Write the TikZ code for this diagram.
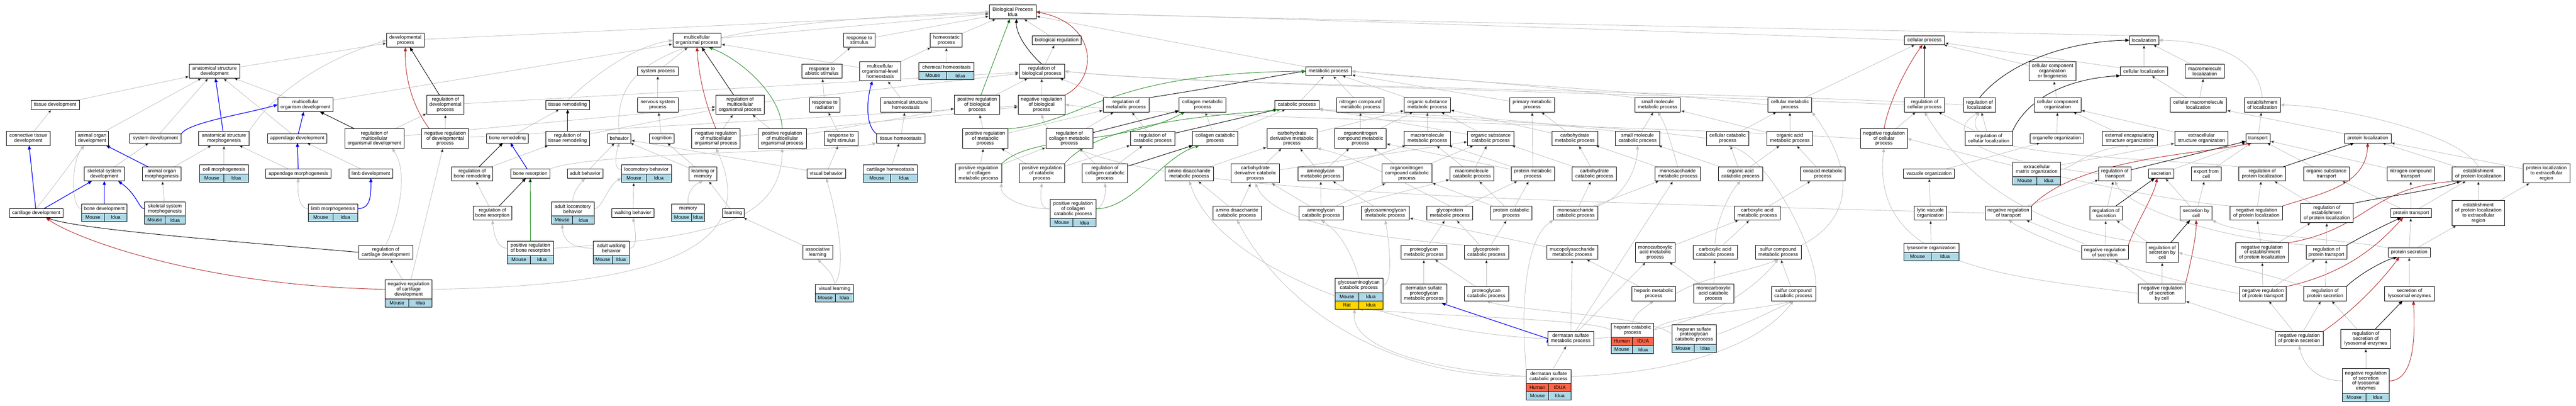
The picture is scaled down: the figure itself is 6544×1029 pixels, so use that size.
\documentclass[tikz,border=0pt]{standalone}
\usepackage{fontspec}
\setmainfont{Liberation Sans}
\usetikzlibrary{arrows.meta}
\usetikzlibrary{backgrounds}
\definecolor{mouserow}{HTML}{ADD8E6}
\definecolor{humanrow}{HTML}{FF6347}
\definecolor{ratrow}{HTML}{FFD700}
\definecolor{isagray}{HTML}{C0C0C0}
\definecolor{negred}{HTML}{B22222}
\definecolor{posgreen}{HTML}{228B22}

\begin{document}
\begin{tikzpicture}
  [x=1pt, y=-1pt,
   term/.style={draw=black, line width=1.1pt, fill=white, align=center, inner sep=2pt, outer sep=0pt,
     minimum height=23pt, font=\fontsize{12.5}{12.8}\selectfont},
   two/.style={term, minimum height=36pt},
   three/.style={term, minimum height=49pt},
   four/.style={term, minimum height=63pt},
   row/.style={draw=black, line width=1.1pt, fill=#1, inner sep=1pt, outer sep=0pt,
     minimum height=21pt, font=\fontsize{12.5}{12.8}\selectfont},
   isa/.style={draw=isagray, line width=1.1pt, -{Triangle[length=10pt,width=8pt]}},
   partof/.style={draw=blue, line width=1.6pt, -{Triangle[length=10pt,width=8pt]}},
   regs/.style={draw=black, line width=1.2pt, -{Triangle[length=10pt,width=8pt]}},
   negregs/.style={draw=negred, line width=1.2pt, -{Triangle[length=10pt,width=8pt]}},
   posregs/.style={draw=posgreen, line width=1.2pt, -{Triangle[length=10pt,width=8pt]}}]
\useasboundingbox (0,0) rectangle (6544,1029);

% development
\node[term, minimum width=123pt] (tissuedev) at (140,266) {tissue development};
\node[two, minimum width=112pt] (conndev) at (72,351) {connective tissue\\development};
\node[two, minimum width=84pt] (aorgdev) at (234,351) {animal organ\\development};
\node[term, minimum width=131pt] (sysdev) at (395,351) {system development};
\node[two, minimum width=128pt] (asm) at (569,351) {anatomical structure\\morphogenesis};
\node[two, minimum width=103pt] (skeldev) at (265,441) {skeletal system\\development};
\node[two, minimum width=99pt] (aorgmorph) at (411,441) {animal organ\\morphogenesis};
\node[term, minimum width=124pt] (cellmorph) at (569,430) {cell morphogenesis};
\node[row=mouserow, minimum width=62pt, anchor=north west] (cellmorph1) at (cellmorph.south west) {Mouse};
\node[row=mouserow, minimum width=62pt, anchor=north east] (cellmorph2) at (cellmorph.south east) {Idua};
\node[term, minimum width=137pt] (cartdev) at (92,540.5) {cartilage development};
\node[term, minimum width=116pt] (bonedev) at (265,529.5) {bone development};
\node[row=mouserow, minimum width=58pt, anchor=north west] (bonedev1) at (bonedev.south west) {Mouse};
\node[row=mouserow, minimum width=58pt, anchor=north east] (bonedev2) at (bonedev.south east) {Idua};
\node[two, minimum width=103pt] (skelmorph) at (419,530) {skeletal system\\morphogenesis};
\node[row=mouserow, minimum width=51.5pt, anchor=north west] (skelmorph1) at (skelmorph.south west) {Mouse};
\node[row=mouserow, minimum width=51.5pt, anchor=north east] (skelmorph2) at (skelmorph.south east) {Idua};
\node[two, minimum width=128pt] (asd) at (545,180.5) {anatomical structure\\development};
\node[two, minimum width=95pt] (devproc) at (1030,102) {developmental\\process};
\node[two, minimum width=141pt] (mod) at (776,265.5) {multicellular\\organism development};
\node[term, minimum width=151pt] (appdev) at (755,351) {appendage development};
\node[three, minimum width=151pt] (regmodev) at (951,351.5) {regulation of\\multicellular\\organismal development};
\node[term, minimum width=166pt] (appmorph) at (758,440.5) {appendage morphogenesis};
\node[term, minimum width=112pt] (limbdev) at (942,440.5) {limb development};
\node[term, minimum width=126pt] (limbmorph) at (846,529.5) {limb morphogenesis};
\node[row=mouserow, minimum width=63pt, anchor=north west] (limbmorph1) at (limbmorph.south west) {Mouse};
\node[row=mouserow, minimum width=63pt, anchor=north east] (limbmorph2) at (limbmorph.south east) {Idua};
\node[two, minimum width=138pt] (regcartdev) at (980,640) {regulation of\\cartilage development};
\node[three, minimum width=119pt] (nregcartdev) at (1038,734) {negative regulation\\of cartilage\\development};
\node[row=mouserow, minimum width=59.5pt, anchor=north west] (nregcartdev1) at (nregcartdev.south west) {Mouse};
\node[row=mouserow, minimum width=59.5pt, anchor=north east] (nregcartdev2) at (nregcartdev.south east) {Idua};
\node[three, minimum width=95pt] (regdevproc) at (1131.5,265.5) {regulation of\\developmental\\process};
\node[three, minimum width=119pt] (nregdevproc) at (1131,351.5) {negative regulation\\of developmental\\process};

% remodeling and behavior
\node[term, minimum width=112pt] (tissrem) at (1442,266) {tissue remodeling};
\node[term, minimum width=106pt] (bonerem) at (1289,351) {bone remodeling};
\node[two, minimum width=112pt] (regtissrem) at (1442,351) {regulation of\\tissue remodeling};
\node[term, minimum width=59pt] (behavior) at (1573,351) {behavior};
\node[two, minimum width=105pt] (regbonerem) at (1199.5,441) {regulation of\\bone remodeling};
\node[term, minimum width=99pt] (boneres) at (1347,440.5) {bone resorption};
\node[term, minimum width=91pt] (adultbeh) at (1486.5,440.5) {adult behavior};
\node[term, minimum width=127pt] (locobeh) at (1642,430) {locomotory behavior};
\node[row=mouserow, minimum width=63.5pt, anchor=north west] (locobeh1) at (locobeh.south west) {Mouse};
\node[row=mouserow, minimum width=63.5pt, anchor=north east] (locobeh2) at (locobeh.south east) {Idua};
\node[two, minimum width=99pt] (regboneres) at (1251,540.5) {regulation of\\bone resorption};
\node[two, minimum width=108pt] (adultlocobeh) at (1455,530) {adult locomotory\\behavior};
\node[row=mouserow, minimum width=54pt, anchor=north west] (adultlocobeh1) at (adultlocobeh.south west) {Mouse};
\node[row=mouserow, minimum width=54pt, anchor=north east] (adultlocobeh2) at (adultlocobeh.south east) {Idua};
\node[term, minimum width=107pt] (walkbeh) at (1608,540.5) {walking behavior};
\node[two, minimum width=117pt] (posregboneres) at (1347.5,630) {positive regulation\\of bone resorption};
\node[row=mouserow, minimum width=58.5pt, anchor=north west] (posregboneres1) at (posregboneres.south west) {Mouse};
\node[row=mouserow, minimum width=58.5pt, anchor=north east] (posregboneres2) at (posregboneres.south east) {Idua};
\node[two, minimum width=92pt] (adultwalkbeh) at (1553,630) {adult walking\\behavior};
\node[row=mouserow, minimum width=49pt, anchor=north west] (adultwalkbeh1) at (adultwalkbeh.south west) {Mouse};
\node[row=mouserow, minimum width=43pt, anchor=north east] (adultwalkbeh2) at (adultwalkbeh.south east) {Idua};
\node[term, minimum width=103pt] (sysproc) at (1671,180.5) {system process};
\node[two, minimum width=103pt] (nervsysproc) at (1671,266) {nervous system\\process};
\node[term, minimum width=63pt] (cognition) at (1681,351) {cognition};
\node[two, minimum width=122.5pt] (mop) at (1770.5,102) {multicellular\\organismal process};
\node[two, minimum width=79pt] (respstim) at (2183,102) {response to\\stimulus};
\node[two, minimum width=101pt] (respabio) at (2088,180.5) {response to\\abiotic stimulus};
\node[three, minimum width=123pt] (regmop) at (1880,265.5) {regulation of\\multicellular\\organismal process};
\node[two, minimum width=78pt] (resprad) at (2095,266) {response to\\radiation};
\node[three, minimum width=123pt] (nregmop) at (1819,351.5) {negative regulation\\of multicellular\\organismal process};
\node[three, minimum width=123pt] (posregmop) at (1987,351.5) {positive regulation\\of multicellular\\organismal process};
\node[two, minimum width=86pt] (resplight) at (2137,351) {response to\\light stimulus};
\node[two, minimum width=70pt] (learnmem) at (1786,441) {learning or\\memory};
\node[term, minimum width=97.5pt] (visbeh) at (2099,440.5) {visual behavior};
\node[term, minimum width=83pt] (memory) at (1748,529.5) {memory};
\node[row=mouserow, minimum width=50pt, anchor=north west] (memory1) at (memory.south west) {Mouse};
\node[row=mouserow, minimum width=33pt, anchor=north east] (memory2) at (memory.south east) {Idua};
\node[term, minimum width=55pt] (learning) at (1863,540.5) {learning};
\node[two, minimum width=76pt] (assoclearn) at (2077,640) {associative\\learning};
\node[term, minimum width=97pt] (vislearn) at (2120,733.5) {visual learning};
\node[row=mouserow, minimum width=50pt, anchor=north west] (vislearn1) at (vislearn.south west) {Mouse};
\node[row=mouserow, minimum width=47pt, anchor=north east] (vislearn2) at (vislearn.south east) {Idua};

% root, homeostasis, regulation
\node[two, minimum width=119pt] (bp) at (2572.5,30) {Biological Process\\Idua};
\node[two, minimum width=81pt] (homeo) at (2404,102) {homeostatic\\process};
\node[term, minimum width=124pt] (bioreg) at (2684.5,102) {biological regulation};
\node[three, minimum width=104pt] (molh) at (2236,180.5) {multicellular\\organismal-level\\homeostasis};
\node[term, minimum width=140pt] (chemhomeo) at (2404.5,170) {chemical homeostasis};
\node[row=mouserow, minimum width=70pt, anchor=north west] (chemhomeo1) at (chemhomeo.south west) {Mouse};
\node[row=mouserow, minimum width=70pt, anchor=north east] (chemhomeo2) at (chemhomeo.south east) {Idua};
\node[two, minimum width=115pt] (regbp) at (2646.5,180.5) {regulation of\\biological process};
\node[two, minimum width=128.5pt] (ash) at (2301,266) {anatomical structure\\homeostasis};
\node[three, minimum width=115pt] (posregbp) at (2482.5,265.5) {positive regulation\\of biological\\process};
\node[three, minimum width=119pt] (nregbp) at (2646,265.5) {negative regulation\\of biological\\process};
\node[term, minimum width=123pt] (tisshomeo) at (2288,351) {tissue homeostasis};
\node[three, minimum width=115pt] (posregmet) at (2503,351.5) {positive regulation\\of metabolic\\process};
\node[three, minimum width=119pt] (regcollmet) at (2716.5,351.5) {regulation of\\collagen metabolic\\process};
\node[term, minimum width=137.5pt] (carthomeo) at (2262,430) {cartilage homeostasis};
\node[row=mouserow, minimum width=68.75pt, anchor=north west] (carthomeo1) at (carthomeo.south west) {Mouse};
\node[row=mouserow, minimum width=68.75pt, anchor=north east] (carthomeo2) at (carthomeo.south east) {Idua};
\node[three, minimum width=117pt] (posregcollmet) at (2486,440) {positive regulation\\of collagen\\metabolic process};
\node[three, minimum width=115pt] (posregcat) at (2646.5,440) {positive regulation\\of catabolic\\process};
\node[three, minimum width=116pt] (posregcollcat) at (2726,530) {positive regulation\\of collagen\\catabolic process};
\node[row=mouserow, minimum width=58pt, anchor=north west] (posregcollcat1) at (posregcollcat.south west) {Mouse};
\node[row=mouserow, minimum width=58pt, anchor=north east] (posregcollcat2) at (posregcollcat.south east) {Idua};
\node[two, minimum width=116pt] (regmet) at (2860.5,266) {regulation of\\metabolic process};
\node[two, minimum width=119pt] (collmet) at (3055,266) {collagen metabolic\\process};
\node[term, minimum width=112.5pt] (catproc) at (3294.5,266) {catabolic process};
\node[two, minimum width=112.5pt] (regcat) at (2928,351) {regulation of\\catabolic process};
\node[two, minimum width=115pt] (collcat) at (3087,351) {collagen catabolic\\process};
\node[three, minimum width=127pt] (carbdermet) at (3282,351.5) {carbohydrate\\derivative metabolic\\process};
\node[two, minimum width=123pt] (aminodimet) at (3021,441) {amino disaccharide\\metabolic process};
\node[three, minimum width=123pt] (carbdercat) at (3189,440) {carbohydrate\\derivative catabolic\\process};
\node[three, minimum width=115pt] (regcollcat) at (2807,440) {regulation of\\collagen catabolic\\process};
\node[two, minimum width=123pt] (aminodicat) at (3142.5,540.5) {amino disaccharide\\catabolic process};

% metabolism
\node[term, minimum width=116pt] (metproc) at (3375,180.5) {metabolic process};
\node[two, minimum width=120.5pt] (ncmet) at (3456,266) {nitrogen compound\\metabolic process};
\node[two, minimum width=117pt] (osmet) at (3626,266) {organic substance\\metabolic process};
\node[three, minimum width=130.5pt] (oncmet) at (3456,351.5) {organonitrogen\\compound metabolic\\process};
\node[two, minimum width=117pt] (macromet) at (3626,351) {macromolecule\\metabolic process};
\node[two, minimum width=117pt] (oscat) at (3787,351) {organic substance\\catabolic process};
\node[two, minimum width=116pt] (amglymet) at (3355,441) {aminoglycan\\metabolic process};
\node[three, minimum width=127pt] (onccat) at (3574,440) {organonitrogen\\compound catabolic\\process};
\node[two, minimum width=112pt] (macrocat) at (3739,441) {macromolecule\\catabolic process};
\node[two, minimum width=112.5pt] (amglycat) at (3356,540.5) {aminoglycan\\catabolic process};
\node[two, minimum width=121.5pt] (gagmet) at (3519,540.5) {glycosaminoglycan\\metabolic process};
\node[two, minimum width=116pt] (gpmet) at (3683,540.5) {glycoprotein\\metabolic process};
\node[two, minimum width=105.5pt] (protcat) at (3839,540.5) {protein catabolic\\process};
\node[two, minimum width=116pt] (pgmet) at (3617,640) {proteoglycan\\metabolic process};
\node[two, minimum width=113pt] (gpcat) at (3776,640) {glycoprotein\\catabolic process};
\node[two, minimum width=121.5pt] (gagcat) at (3452,724) {glycosaminoglycan\\catabolic process};
\node[row=mouserow, minimum width=60.75pt, anchor=north west] (gagcat1) at (gagcat.south west) {Mouse};
\node[row=mouserow, minimum width=60.75pt, anchor=north east] (gagcat2) at (gagcat.south east) {Idua};
\node[row=ratrow, minimum width=60.75pt, anchor=north west] (gagcat3) at (gagcat1.south west) {Rat};
\node[row=ratrow, minimum width=60.75pt, anchor=north east] (gagcat4) at (gagcat2.south east) {Idua};
\node[three, minimum width=116pt] (dspgmet) at (3617,744.5) {dermatan sulfate\\proteoglycan\\metabolic process};
\node[two, minimum width=113pt] (pgcat) at (3776,745) {proteoglycan\\catabolic process};
\node[two, minimum width=114pt] (primmet) at (3892,266) {primary metabolic\\process};
\node[two, minimum width=116pt] (smmet) at (4211,266) {small molecule\\metabolic process};
\node[two, minimum width=116pt] (carbmet) at (4000.5,351) {carbohydrate\\metabolic process};
\node[two, minimum width=112.5pt] (smcat) at (4160,351) {small molecule\\catabolic process};
\node[two, minimum width=107pt] (cellcat) at (4389,351) {cellular catabolic\\process};
\node[two, minimum width=110pt] (protmet) at (3894,441) {protein metabolic\\process};
\node[two, minimum width=112.5pt] (carbcat) at (4050.5,441) {carbohydrate\\catabolic process};
\node[two, minimum width=116pt] (msmet) at (4262,441) {monosaccharide\\metabolic process};
\node[two, minimum width=112.5pt] (oacat) at (4421.5,441) {organic acid\\catabolic process};
\node[two, minimum width=112.5pt] (mscat) at (4002.5,540.5) {monosaccharide\\catabolic process};
\node[two, minimum width=130pt] (mpsmet) at (3994,640) {mucopolysaccharide\\metabolic process};
\node[three, minimum width=101pt] (mcamet) at (4205,640.5) {monocarboxylic\\acid metabolic\\process};
\node[two, minimum width=112.5pt] (cacat) at (4357,640) {carboxylic acid\\catabolic process};
\node[two, minimum width=112pt] (hepmet) at (4201,745) {heparin metabolic\\process};
\node[three, minimum width=102pt] (mcacat) at (4353,744.5) {monocarboxylic\\acid catabolic\\process};
\node[two, minimum width=116pt] (dsmet) at (3990,859) {dermatan sulfate\\metabolic process};
\node[two, minimum width=108pt] (hepcat) at (4147,837.5) {heparin catabolic\\process};
\node[row=humanrow, minimum width=54pt, anchor=north west] (hepcat1) at (hepcat.south west) {Human};
\node[row=humanrow, minimum width=54pt, anchor=north east] (hepcat2) at (hepcat.south east) {IDUA};
\node[row=mouserow, minimum width=54pt, anchor=north west] (hepcat3) at (hepcat1.south west) {Mouse};
\node[row=mouserow, minimum width=54pt, anchor=north east] (hepcat4) at (hepcat2.south east) {Idua};
\node[three, minimum width=113pt] (hspgcat) at (4303.5,848.5) {heparan sulfate\\proteoglycan\\catabolic process};
\node[row=mouserow, minimum width=56.5pt, anchor=north west] (hspgcat1) at (hspgcat.south west) {Mouse};
\node[row=mouserow, minimum width=56.5pt, anchor=north east] (hspgcat2) at (hspgcat.south east) {Idua};
\node[two, minimum width=113.5pt] (dscat) at (3934,955) {dermatan sulfate\\catabolic process};
\node[row=humanrow, minimum width=56.75pt, anchor=north west] (dscat1) at (dscat.south west) {Human};
\node[row=humanrow, minimum width=56.75pt, anchor=north east] (dscat2) at (dscat.south east) {IDUA};
\node[row=mouserow, minimum width=56.75pt, anchor=north west] (dscat3) at (dscat1.south west) {Mouse};
\node[row=mouserow, minimum width=56.75pt, anchor=north east] (dscat4) at (dscat2.south east) {Idua};
\node[term, minimum width=102pt] (cellproc) at (4889,102) {cellular process};
\node[two, minimum width=111.5pt] (cellmet) at (4547,266) {cellular metabolic\\process};
\node[two, minimum width=102pt] (regcellproc) at (4889,266) {regulation of\\cellular process};
\node[two, minimum width=116.5pt] (oamet) at (4547,351) {organic acid\\metabolic process};
\node[three, minimum width=118.5pt] (nregcellproc) at (4786,351.5) {negative regulation\\of cellular\\process};
\node[two, minimum width=114pt] (oxomet) at (4630.5,441) {oxoacid metabolic\\process};
\node[term, minimum width=129.5pt] (vacorg) at (4900.5,440.5) {vacuole organization};
\node[two, minimum width=116pt] (camet) at (4464,540.5) {carboxylic acid\\metabolic process};
\node[two, minimum width=82.5pt] (lytvacorg) at (4904,540.5) {lytic vacuole\\organization};
\node[two, minimum width=117pt] (sulfmet) at (4517.5,640) {sulfur compound\\metabolic process};
\node[term, minimum width=140pt] (lysorg) at (4906,629) {lysosome organization};
\node[row=mouserow, minimum width=70pt, anchor=north west] (lysorg1) at (lysorg.south west) {Mouse};
\node[row=mouserow, minimum width=70pt, anchor=north east] (lysorg2) at (lysorg.south east) {Idua};
\node[two, minimum width=113pt] (sulfcat) at (4556,745) {sulfur compound\\catabolic process};

% localization and transport
\node[term, minimum width=74.5pt] (loc) at (5446.5,102) {localization};
\node[three, minimum width=119pt] (ccob) at (5214,180.5) {cellular component\\organization\\or biogenesis};
\node[term, minimum width=120.5pt] (cellloc) at (5446.5,180.5) {cellular localization};
\node[two, minimum width=81.5pt] (regloc) at (5028.5,266) {regulation of\\localization};
\node[two, minimum width=119pt] (cco) at (5227,266) {cellular component\\organization};
\node[two, minimum width=120.5pt] (regcellloc) at (5052,351) {regulation of\\cellular localization};
\node[term, minimum width=136pt] (orgorg) at (5225,351) {organelle organization};
\node[two, minimum width=140pt] (eeso) at (5410,351) {external encapsulating\\structure organization};
\node[two, minimum width=121.5pt] (ecmorg) at (5174,430) {extracellular\\matrix organization};
\node[row=mouserow, minimum width=60.75pt, anchor=north west] (ecmorg1) at (ecmorg.south west) {Mouse};
\node[row=mouserow, minimum width=60.75pt, anchor=north east] (ecmorg2) at (ecmorg.south east) {Idua};
\node[two, minimum width=81.5pt] (regtrans) at (5372.5,441) {regulation of\\transport};
\node[term, minimum width=63.5pt] (secretion) at (5490,440.5) {secretion};
\node[two, minimum width=118.5pt] (nregtrans) at (5102,540.5) {negative regulation\\of transport};
\node[two, minimum width=82pt] (regsec) at (5350,540.5) {regulation of\\secretion};
\node[two, minimum width=119pt] (nregsec) at (5347,640) {negative regulation\\of secretion};
\node[three, minimum width=81.5pt] (regseccell) at (5493,640.5) {regulation of\\secretion by\\cell};
\node[three, minimum width=119pt] (nregseccell) at (5492,744.5) {negative regulation\\of secretion\\by cell};
\node[two, minimum width=99pt] (macroloc) at (5601,180.5) {macromolecule\\localization};
\node[two, minimum width=143.5pt] (cmacroloc) at (5584.5,266) {cellular macromolecule\\localization};
\node[two, minimum width=91.5pt] (estloc) at (5747,266) {establishment\\of localization};
\node[two, minimum width=135pt] (ecso) at (5592.5,351) {extracellular\\structure organization};
\node[term, minimum width=61pt] (transport) at (5736,351) {transport};
\node[term, minimum width=119pt] (protloc) at (6015,351) {protein localization};
\node[two, minimum width=76.5pt] (expcell) at (5604.5,441) {export from\\cell};
\node[two, minimum width=119pt] (regprotloc) at (5747,441) {regulation of\\protein localization};
\node[two, minimum width=116pt] (ostrans) at (5910,441) {organic substance\\transport};
\node[two, minimum width=81pt] (seccell) at (5579,540.5) {secretion by\\cell};
\node[two, minimum width=133.5pt] (nregprotloc) at (5732,540.5) {negative regulation\\of protein localization};
\node[three, minimum width=134pt] (regestprotloc) at (5911,540.5) {regulation of\\establishment\\of protein localization};
\node[three, minimum width=134pt] (nregestprotloc) at (5746.5,640.5) {negative regulation\\of establishment\\of protein localization};
\node[two, minimum width=103pt] (regprottrans) at (5910,640) {regulation of\\protein transport};
\node[two, minimum width=119pt] (nregprottrans) at (5748.5,745) {negative regulation\\of protein transport};
\node[two, minimum width=107.5pt] (regprotsec) at (5906.5,745) {regulation of\\protein secretion};
\node[two, minimum width=121.5pt] (nregprotsec) at (5840.5,859) {negative regulation\\of protein secretion};
\node[three, minimum width=127pt] (regseclys) at (6010,859.5) {regulation of\\secretion of\\lysosomal enzymes};
\node[four, minimum width=119pt] (nregseclys) at (6010,966.5) {negative regulation\\of secretion\\of lysosomal\\enzymes};
\node[row=mouserow, minimum width=59.5pt, anchor=north west] (nregseclys1) at (nregseclys.south west) {Mouse};
\node[row=mouserow, minimum width=59.5pt, anchor=north east] (nregseclys2) at (nregseclys.south east) {Idua};
\node[two, minimum width=121pt] (nctrans) at (6124,441) {nitrogen compound\\transport};
\node[two, minimum width=134pt] (estprotloc) at (6296,441) {establishment\\of protein localization};
\node[three, minimum width=119pt] (protlocext) at (6469,440) {protein localization\\to extracellular\\region};
\node[term, minimum width=104pt] (prottrans) at (6125,540.5) {protein transport};
\node[four, minimum width=134pt] (estprotlocext) at (6296,540.5) {establishment\\of protein localization\\to extracellular\\region};
\node[term, minimum width=107pt] (protsec) at (6120,640.5) {protein secretion};
\node[two, minimum width=127pt] (seclys) at (6121,745) {secretion of\\lysosomal enzymes};

\begin{scope}[on background layer]
\fill[white] (0,0) rectangle (6544,1029);

% is_a
\path[isa] (tissuedev) edge (asd) (conndev) edge (tissuedev) (aorgdev) edge (asd)
  (sysdev) edge (asd) (skeldev) edge (sysdev) (aorgmorph) edge (asm) (cellmorph) edge (asm)
  (skelmorph) edge (aorgmorph) (asd) edge (devproc) (mod) edge (asd) (mod) edge (mop)
  (appdev) edge (asd) (appmorph) edge (asm) (limbdev) edge (appdev)
  (regmodev) edge (regdevproc) (regmodev) edge (regmop) (nregcartdev) edge (regcartdev)
  (nregcartdev) edge (nregdevproc) (nregdevproc) edge (regdevproc) (nregdevproc) edge (nregbp)
  (regdevproc) edge (regbp) (bonerem) edge (tissrem) (regtissrem) edge (regmop)
  (regbonerem) edge (regtissrem) (regboneres) edge (regbonerem) (adultbeh) edge (behavior)
  (walkbeh) edge (locobeh1) (sysproc) edge (mop) (nervsysproc) edge (sysproc)
  (cognition) edge (nervsysproc) (learnmem) edge (cognition) (learnmem) edge (behavior)
  (visbeh) edge (behavior) (visbeh) edge (resplight) (learning) edge (learnmem)
  (assoclearn) edge (learning) (mop) edge (bp) (respstim) edge (bp) (respabio) edge (respstim)
  (resprad) edge (respabio) (resplight) edge (resprad) (nregmop) edge (regmop)
  (posregmop) edge (regmop) (regmop) edge (regbp) (nregmop) edge (nregbp)
  (posregmop) edge (posregbp) (molh) edge (mop) (molh) edge (homeo) (chemhomeo) edge (homeo)
  (homeo) edge (bp) (ash) edge (molh) (tisshomeo) edge (ash) (carthomeo) edge (tisshomeo)
  (devproc) edge (bp) (regbp) edge (bioreg) (bioreg) edge (bp) (posregbp) edge (regbp)
  (nregbp) edge (regbp) (posregmet) edge (posregbp) (posregmet) edge (regmet)
  (posregcollmet) edge (posregmet) (posregcollmet) edge (regcollmet) (posregcat) edge (posregmet)
  (posregcat) edge (regcat) (regmet) edge (regbp) (regcollmet) edge (regmet) (regcat) edge (regmet)
  (regcollcat) edge (regcat) (regcollcat) edge (regcollmet) (collcat) edge (collmet)
  (collcat) edge (catproc) (carbdermet) edge (osmet) (aminodimet) edge (carbdermet)
  (carbdercat) edge (carbdermet) (carbdercat) edge (oscat) (aminodicat) edge (aminodimet)
  (aminodicat) edge (carbdercat) (metproc) edge (bp) (ncmet) edge (metproc) (osmet) edge (metproc)
  (catproc) edge (metproc) (oncmet) edge (ncmet) (oncmet) edge (osmet) (macromet) edge (osmet)
  (oscat) edge (osmet) (oscat) edge (catproc) (amglymet) edge (carbdermet) (amglymet) edge (oncmet)
  (amglymet) edge (macromet) (onccat) edge (oncmet) (onccat) edge (oscat) (macrocat) edge (macromet)
  (macrocat) edge (oscat) (amglycat) edge (amglymet) (amglycat) edge (onccat)
  (amglycat) edge (macrocat) (amglycat) edge (carbdercat) (gagmet) edge (amglymet)
  (gpmet) edge (protmet) (protcat) edge (macrocat) (protcat) edge (protmet) (protcat) edge (onccat)
  (pgmet) edge (gpmet) (gpcat) edge (gpmet) (gpcat) edge (protcat) (mpsmet) edge (gagmet)
  (dspgmet) edge (pgmet) (pgcat) edge (pgmet) (pgcat) edge (gpcat) (primmet) edge (metproc)
  (carbmet) edge (primmet) (carbmet) edge (osmet) (smcat) edge (smmet) (protmet) edge (primmet)
  (protmet) edge (macromet) (protmet) edge (oncmet) (carbcat) edge (carbmet) (carbcat) edge (oscat)
  (msmet) edge (carbmet) (oacat) edge (smcat) (oacat) edge (cellcat) (oacat) edge (oamet)
  (mscat) edge (carbcat) (mscat) edge (msmet) (mcamet) edge (camet) (cacat) edge (camet)
  (hepmet) edge (mpsmet) (mcacat) edge (mcamet) (mcacat) edge (cacat) (dsmet) edge (mpsmet)
  (dsmet) edge (msmet) (dsmet) edge (mcamet) (dscat) edge (dsmet) (cellmet) edge (cellproc)
  (nregcellproc) edge (regcellproc) (oamet) edge (smmet) (oamet) edge (cellmet)
  (cellcat) edge (cellmet) (oxomet) edge (oamet) (camet) edge (oxomet) (sulfcat) edge (sulfmet)
  (vacorg) edge (orgorg) (lytvacorg) edge (vacorg) (lysorg) edge (lytvacorg) (ccob) edge (cellproc)
  (cco) edge (ccob) (orgorg) edge (cco) (eeso) edge (cco) (ecso) edge (cco)
  (regcellloc) edge (regloc) (regcellloc) edge (regcellproc) (ecmorg) edge (ecso)
  (nregtrans) edge (regtrans) (regsec) edge (regtrans) (nregsec) edge (regsec)
  (nregsec) edge (nregtrans) (regseccell) edge (regsec) (nregseccell) edge (regseccell)
  (nregseccell) edge (nregsec) (cellloc) edge (loc) (cellloc) edge (cellproc) (macroloc) edge (loc)
  (cmacroloc) edge (macroloc) (cmacroloc) edge (cellloc) (transport) edge (estloc)
  (protloc) edge (cmacroloc) (expcell) edge (transport) (seccell) edge (expcell)
  (seccell) edge (secretion) (secretion) edge (transport) (ostrans) edge (transport)
  (nctrans) edge (transport) (nregprotloc) edge (regprotloc) (regestprotloc) edge (regprotloc)
  (nregestprotloc) edge (nregprotloc) (nregestprotloc) edge (regestprotloc)
  (regprottrans) edge (regestprotloc) (nregprottrans) edge (nregestprotloc)
  (nregprottrans) edge (regprottrans) (regprotsec) edge (regprottrans)
  (nregprotsec) edge (nregprottrans) (nregprotsec) edge (regprotsec) (nregprotsec) edge (nregseccell)
  (regseclys) edge (regprotsec) (nregseclys) edge (regseclys) (prottrans) edge (nctrans)
  (prottrans) edge (estprotloc) (prottrans) edge (ostrans) (estprotloc) edge (protloc)
  (estprotlocext) edge (estprotloc) (estprotlocext) edge (protlocext) (protlocext) edge (protloc)
  (protsec) edge (prottrans) (protsec) edge (estprotlocext) (seclys) edge (protsec);

\draw[isa] (cartdev.north) .. controls (140,470) and (190,400) .. ([xshift=-20pt]aorgdev.south);
\draw[isa] (bonedev.west) .. controls (180,529) and (180,410) .. ([xshift=-20pt]aorgdev.south);
\draw[isa] (asm.north east) .. controls (690,240) and (820,150) .. (devproc.west);
\draw[isa] (limbmorph.west) .. controls (760,529) and (755,490) .. (appmorph.south);
\draw[isa] (regcartdev.north) .. controls (1010,560) and (1040,440) .. ([xshift=45pt]regmodev.south);
\draw[isa] (nregcartdev.east) .. controls (1700,725) and (1930,620) .. (nregmop.south);
\draw[isa] (posregboneres.west) .. controls (1265,630) and (1255,600) .. (regboneres.south);
\draw[isa] (posregboneres.east) .. controls (1750,605) and (1985,580) .. (posregmop.south);
\draw[isa] (boneres.north east) .. controls (1500,385) and (2150,385) .. (tisshomeo.south west);
\draw[isa] (tissrem.north) .. controls (1500,200) and (1600,120) .. (mop.west);
\draw[isa] (adultlocobeh.north) .. controls (1455,490) and (1470,470) .. (adultbeh.south);
\draw[isa] (adultlocobeh.east) .. controls (1530,529) and (1545,470) .. (locobeh1.west);
\draw[isa] (locobeh.west) .. controls (1560,430) and (1562,400) .. (behavior.south);
\draw[isa] (adultwalkbeh.west) .. controls (1440,629) and (1430,600) .. (adultlocobeh1.south);
\draw[isa] (adultwalkbeh.east) .. controls (1620,629) and (1615,590) .. (walkbeh.south);
\draw[isa] (behavior.north) .. controls (1555,150) and (1700,60) .. (bp.west);
\draw[isa] (memory.north) .. controls (1745,490) and (1760,470) .. (learnmem.south);
\draw[isa] (vislearn.north) .. controls (2120,700) and (2100,680) .. (assoclearn.south);
\draw[isa] (vislearn.north) .. controls (2150,680) and (2130,560) .. (visbeh.south);
\draw[isa] (posregcollcat.west) .. controls (2640,530) and (2643,500) .. (posregcat.south);
\draw[isa] (posregcollcat.west) .. controls (2600,530) and (2540,500) .. (posregcollmet.south east);
\draw[isa] (posregcollcat.east) .. controls (2800,528) and (2810,500) .. (regcollcat.south);
\draw[isa] (gpmet.north) .. controls (3560,460) and (3450,400) .. (carbdermet.south east);
\draw[isa] (gpcat.north west) .. controls (3450,600) and (3230,560) .. (carbdercat.south);
\draw[isa] (gagcat.north) .. controls (3445,680) and (3420,600) .. (amglycat.south);
\draw[isa] (gagcat.east) .. controls (3540,722) and (3530,620) .. (gagmet.south);
\draw[isa] (msmet.north) .. controls (4255,400) and (4235,320) .. (smmet.south);
\draw[isa] (mscat.north east) .. controls (4130,500) and (4160,420) .. (smcat.south);
\draw[isa] (cacat.north) .. controls (4355,580) and (4385,500) .. (oacat.south);
\draw[isa] (hepcat.north) .. controls (4150,800) and (4165,790) .. (hepmet.south);
\draw[isa] (hepcat.west) .. controls (4050,810) and (3700,805) .. (gagcat3.south east);
\draw[isa] (hepcat.east) .. controls (4230,800) and (4450,790) .. (sulfcat.south);
\draw[isa] (hspgcat.west) .. controls (4200,800) and (3850,790) .. (pgcat.south);
\draw[isa] (hspgcat.east) .. controls (4380,845) and (4480,800) .. (sulfcat.south);
\draw[isa] (dscat.north west) .. controls (3860,760) and (3880,600) .. (mscat.south west);
\draw[isa] (dscat.west) .. controls (3550,930) and (3430,860) .. ([xshift=-10pt]gagcat3.south east);
\draw[isa] (dscat.west) .. controls (3500,960) and (3250,760) .. (aminodicat.south);
\draw[isa] (dscat.east) .. controls (4200,950) and (4450,900) .. (sulfcat.south);
\draw[isa] (dsmet.west) .. controls (3600,850) and (3100,700) .. (aminodimet.south);
\draw[isa] (dsmet.east) .. controls (4200,850) and (4400,800) .. (sulfmet.south);
\draw[isa] (hepmet.east) .. controls (4330,700) and (4440,690) .. (sulfmet.south);
\draw[isa] (sulfmet.north east) .. controls (4700,560) and (4720,440) .. (cellmet.south east);
\draw[isa] (sulfcat.north east) .. controls (4620,650) and (4500,400) .. (cellcat.south);
\draw[isa] (smmet.north west) .. controls (3900,215) and (3600,195) .. (metproc.east);
\draw[isa] (cellmet.west) .. controls (4100,225) and (3600,200) .. (metproc.east);
\draw[isa] (cellcat.west) .. controls (4000,305) and (3500,300) .. (catproc.south east);
\draw[isa] (smcat.north west) .. controls (3800,300) .. (catproc.south east);
\draw[isa] (cellproc.west) .. controls (4300,80) and (3000,40) .. (bp.east);
\draw[isa] (loc.north west) .. controls (4500,70) and (3000,45) .. (bp.east);
\draw[isa] (regcellproc.west) .. controls (4000,230) and (3000,215) .. (regbp.east);
\draw[isa] (regloc.west) .. controls (4300,228) and (3100,222) .. (regbp.east);
\draw[isa] (nregcellproc.west) .. controls (4000,310) and (3000,300) .. (nregbp.east);
\draw[isa] (nregtrans.west) .. controls (3500,500) and (2700,480) .. (nregbp.south);
\draw[isa] (nregprotloc.north west) .. controls (5400,500) and (4950,380) .. (nregcellproc.east);
\draw[isa] (nregseccell.west) .. controls (5100,700) and (4750,680) .. (nregcellproc.south);
\draw[isa] (regseccell.north west) .. controls (5200,590) and (5000,470) .. (regcellproc.south);
\draw[isa] (regtrans.west) .. controls (4980,400) and (4950,330) .. (regloc.south);
\draw[isa] (regprotloc.north west) .. controls (5400,395) and (4960,400) .. (regloc.south);
\draw[isa] (ecmorg.east) .. controls (5260,430) and (5300,380) .. (eeso.south);
\draw[isa] (regprottrans.north west) .. controls (5600,600) and (5400,520) .. (regtrans.south);
\draw[isa] (nregprottrans.west) .. controls (5450,700) and (5200,620) .. (nregtrans.south);
\draw[isa] (regprotsec.north west) .. controls (5750,690) and (5600,660) .. (regseccell.east);
\draw[isa] (protsec.north west) .. controls (5950,605) and (5700,600) .. (seccell.south east);
\draw[isa] (nregseclys.west) .. controls (5880,965) and (5850,920) .. (nregprotsec.south);
\draw[isa] (estprotloc.north) .. controls (6250,340) and (5950,270) .. (estloc.east);
\draw[isa] (estloc.north) .. controls (5740,160) and (5650,105) .. (loc.east);

% part_of
\path[partof] (cartdev) edge (conndev) (cartdev) edge (skeldev) (bonedev) edge (skeldev)
  (aorgmorph) edge (aorgdev) (asm) edge (asd) (appdev) edge (mod) (appmorph) edge (appdev)
  (boneres) edge (bonerem) (dsmet.west) edge ([xshift=45pt]dspgmet.south);
\draw[partof] (sysdev.north east) .. controls (480,310) and (620,290) .. (mod.west);
\draw[partof] (skelmorph.west) .. controls (352,529) and (350,495) .. ([xshift=35pt]skeldev.south);
\draw[partof] (limbmorph.east) .. controls (940,529) and (943,500) .. (limbdev.south);
\draw[partof] (tisshomeo.north west) .. controls (2200,320) and (2200,260) .. ([xshift=-20pt]molh.south);

% regulates
\path[regs] (regmodev) edge (mod) (regdevproc) edge (devproc) (regtissrem) edge (tissrem)
  (regbonerem) edge (bonerem) (regboneres) edge (boneres) (regmop) edge (mop)
  (regcollmet) edge (collmet) (regcat) edge (catproc) (regcollcat) edge (collcat)
  (regcellproc) edge (cellproc) (regtrans) edge (transport) (regsec) edge (secretion)
  (regseccell) edge (seccell) (regprotloc) edge (protloc) (regseclys) edge (seclys);
\draw[regs] (regcartdev.west) .. controls (500,605) and (200,580) .. ([xshift=25pt]cartdev.south);
\draw[regs] (regbp.north) .. controls (2620,140) and (2580,90) .. ([xshift=10pt]bp.south);
\draw[regs] (regmet.north east) .. controls (3100,220) and (3250,190) .. (metproc.west);
\draw[regs] (regloc.north) .. controls (5100,160) and (5250,105) .. (loc.west);
\draw[regs] (regcellloc.north east) .. controls (5150,250) and (5250,200) .. (cellloc.south west);
\draw[regs] (regestprotloc.north east) .. controls (6050,500) and (6200,480) .. ([xshift=-45pt]estprotloc.south);
\draw[regs] (regprottrans.north east) .. controls (6000,600) and (6060,570) .. ([xshift=-25pt]prottrans.south);
\draw[regs] (regprotsec.north east) .. controls (6000,690) and (6060,660) .. ([xshift=-30pt]protsec.south);

% negatively regulates
\draw[negregs] (nregcartdev.west) .. controls (500,725) and (180,600) .. ([xshift=25pt]cartdev.south);
\draw[negregs] ([xshift=-40pt]nregdevproc.north) .. controls (1040,260) and (1028,180) .. (devproc.south);
\draw[negregs] (nregmop.north) .. controls (1790,260) and (1775,190) .. (mop.south);
\draw[negregs] (nregbp.north east) .. controls (2790,200) and (2790,60) .. (bp.east);
\draw[negregs] (nregcellproc.north) .. controls (4800,250) and (4850,160) .. ([xshift=-5pt]cellproc.south);
\draw[negregs] (nregtrans.north east) .. controls (5280,400) and (5600,390) .. ([xshift=-15pt]transport.south);
\draw[negregs] (nregsec.north east) .. controls (5430,560) and (5470,500) .. ([xshift=-10pt]secretion.south);
\draw[negregs] (nregseccell.north east) .. controls (5560,690) and (5580,600) .. (seccell.south);
\draw[negregs] (nregprotloc.north east) .. controls (5900,490) and (6010,470) .. (protloc.south);
\draw[negregs] (nregestprotloc.north east) .. controls (6020,580) and (6020,470) .. ([xshift=-40pt]estprotloc.south);
\draw[negregs] (nregprottrans.north east) .. controls (5980,690) and (6060,600) .. ([xshift=-20pt]prottrans.south);
\draw[negregs] (nregprotsec.north east) .. controls (5990,780) and (6060,700) .. ([xshift=-25pt]protsec.south);
\draw[negregs] (nregseclys.east) .. controls (6135,965) and (6135,850) .. ([xshift=10pt]seclys.south);

% positively regulates
\path[posregs] (posregboneres) edge (boneres) (posregbp) edge (bp);
\draw[posregs] (posregmop.north) .. controls (1985,240) and (1880,150) .. ([xshift=30pt]mop.south);
\draw[posregs] (posregmet.north east) .. controls (2760,310) and (2800,185) .. (metproc.west);
\draw[posregs] (posregcollmet.north east) .. controls (2620,340) and (2850,370) .. ([xshift=-45pt]collmet.south);
\draw[posregs] (posregcat.north east) .. controls (2800,300) and (3150,290) .. ([xshift=-40pt]catproc.south);
\draw[posregs] (posregcollcat.east) .. controls (2880,528) and (2950,400) .. ([xshift=-40pt]collcat.south);
\end{scope}
\end{tikzpicture}
\end{document}
